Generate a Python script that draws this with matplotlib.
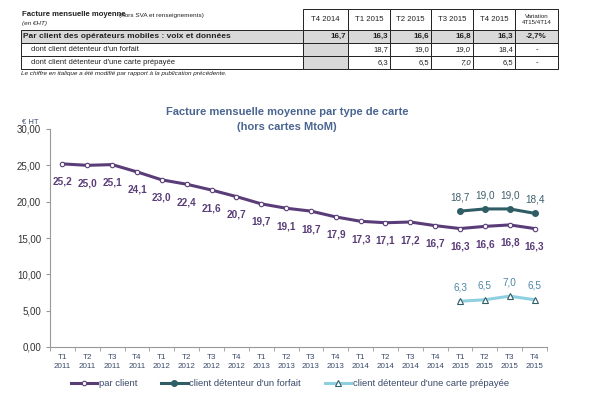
import matplotlib.pyplot as plt
from matplotlib.patches import Rectangle

plt.rcParams['font.family'] = ['Liberation Sans', 'DejaVu Sans']

W, H = 609, 395

# ---- data ----
quarters = ["T1", "T2", "T3", "T4"] * 5
years = [str(y) for y in range(2011, 2016) for _ in range(4)]
par_client = [25.2, 25.0, 25.1, 24.1, 23.0, 22.4, 21.6, 20.7, 19.7, 19.1,
              18.7, 17.9, 17.3, 17.1, 17.2, 16.7, 16.3, 16.6, 16.8, 16.3]
forfait = [18.7, 19.0, 19.0, 18.4]
prepayee = [6.3, 6.5, 7.0, 6.5]

table_cols = ["T4 2014", "T1 2015", "T2 2015", "T3 2015", "T4 2015", "Variation\n4T15/4T14"]
table_rows = ["Par client des opérateurs mobiles : voix et données",
              "dont client détenteur d'un forfait",
              "dont client détenteur d'une carte prépayée"]
table_vals = [["16,7", "16,3", "16,6", "16,8", "16,3", "-2,7%"],
              ["", "18,7", "19,0", "19,0", "18,4", "-"],
              ["", "6,3", "6,5", "7,0", "6,5", "-"]]

c_par = "#5a3d78"
c_forf = "#2f5d66"
c_prep = "#8fd0e0"
c_gray = "#d9d9d9"


def fx(x):
    return x / W


def fy(y):
    return 1 - y / H


def box(fig, x0, y0, x1, y1, fill="white"):
    fig.add_artist(Rectangle((fx(x0), fy(y1)), fx(x1) - fx(x0), fy(y0) - fy(y1),
                             transform=fig.transFigure, facecolor=fill,
                             edgecolor="#222222", linewidth=0.7))


fig = plt.figure(figsize=(W / 100, H / 100), dpi=100)

# ---- table ----
col_edges = [303, 348, 390, 431, 473, 515, 558]
row_edges = [9, 30, 43, 56, 69]
fig.text(fx(22), fy(15), "Facture mensuelle moyenne", fontsize=5.6, fontweight="bold",
         va="center", color="#222222")
fig.text(fx(119), fy(15), "(hors SVA et renseignements)", fontsize=4.6, va="center", color="#222222")
fig.text(fx(22), fy(24), "(en €HT)", fontsize=4.6, style="italic", va="center", color="#222222")
for j, col in enumerate(table_cols):
    box(fig, col_edges[j], row_edges[0], col_edges[j + 1], row_edges[1])
    fs = 4.4 if "\n" in col else 5.6
    fig.text(fx((col_edges[j] + col_edges[j + 1]) / 2), fy(19.5), col, fontsize=fs,
             ha="center", va="center", color="#222222", linespacing=1.2)
for i, row in enumerate(table_rows):
    y0, y1 = row_edges[i + 1], row_edges[i + 2]
    yc = (y0 + y1) / 2
    first = i == 0
    box(fig, 21, y0, col_edges[0], y1, fill=c_gray if first else "white")
    fig.text(fx(23 if first else 31), fy(yc), row, fontsize=6.0 if first else 5.5,
             fontweight="bold" if first else "normal", va="center", color="#222222")
    for j, v in enumerate(table_vals[i]):
        gray = first or j == 0
        box(fig, col_edges[j], y0, col_edges[j + 1], y1, fill=c_gray if gray else "white")
        last = j == len(table_vals[i]) - 1
        xt = (col_edges[j] + col_edges[j + 1]) / 2 if last else col_edges[j + 1] - 2
        fig.text(fx(xt), fy(yc), v, fontsize=5.8 if first else 5.5,
                 fontweight="bold" if first else "normal",
                 style="italic" if (j == 3 and not first) else "normal",
                 ha="center" if last else "right", va="center", color="#222222")
fig.text(fx(21), fy(73.5), "Le chiffre en italique a été modifié par rapport à la publication précédente.",
         fontsize=4.6, style="italic", va="center", color="#222222")

# ---- chart ----
ax = fig.add_axes([fx(50), fy(347), fx(547) - fx(50), fy(129) - fy(347)])
n = len(par_client)
x = list(range(n))
x15 = x[-4:]

ax.plot(x, par_client, color=c_par, lw=2.2, marker="o", ms=3.2,
        mfc="white", mec=c_par, mew=0.8, label="par client", zorder=3)
ax.plot(x15, forfait, color=c_forf, lw=2.2, marker="o", ms=4,
        mfc=c_forf, mec=c_forf, label="client détenteur d'un forfait", zorder=3)
ax.plot(x15, prepayee, color=c_prep, lw=2.2, marker="^", ms=4,
        mfc="white", mec=c_forf, mew=0.8, label="client détenteur d'une carte prépayée", zorder=3)

for xi, v in zip(x, par_client):
    ax.annotate(f"{v:.1f}".replace(".", ","), (xi, v), xytext=(0, -13),
                textcoords="offset points", ha="center", va="center",
                fontsize=7.2, fontweight="bold", color=c_par)
for xi, v in zip(x15, forfait):
    ax.annotate(f"{v:.1f}".replace(".", ","), (xi, v), xytext=(0, 10),
                textcoords="offset points", ha="center", va="center",
                fontsize=7.2, color="#3d5f6c")
for xi, v in zip(x15, prepayee):
    ax.annotate(f"{v:.1f}".replace(".", ","), (xi, v), xytext=(0, 10),
                textcoords="offset points", ha="center", va="center",
                fontsize=7.2, color="#4d86a6")

ax.set_xlim(-0.5, n - 0.5)
ax.set_ylim(0, 30)
ax.set_yticks([0, 5, 10, 15, 20, 25, 30])
ax.set_yticklabels([f"{v:.2f}".replace(".", ",") for v in [0, 5, 10, 15, 20, 25, 30]])
ax.set_xticks(x)
ax.set_xticklabels([f"{q}\n{y}" for q, y in zip(quarters, years)])
ax.set_xticks([i - 0.5 for i in range(n + 1)], minor=True)
ax.tick_params(axis="x", which="major", length=0, labelsize=5.8, colors="#3a4a6a", pad=5)
ax.tick_params(axis="x", which="minor", length=3, color="#999999")
ax.tick_params(axis="y", length=3, color="#999999", labelsize=7, labelcolor="#333333")
for lab in ax.get_xticklabels():
    lab.set_linespacing(1.5)
for s in ["top", "right"]:
    ax.spines[s].set_visible(False)
for s in ["left", "bottom"]:
    ax.spines[s].set_color("#999999")
    ax.spines[s].set_linewidth(0.8)

fig.text(fx(30), fy(122), "€ HT", fontsize=5.5, ha="center", va="center", color="#3a4a6a")
fig.text(fx(287), fy(112), "Facture mensuelle moyenne par type de carte", fontsize=8,
         fontweight="bold", ha="center", va="center", color="#4a6590")
fig.text(fx(287), fy(127), "(hors cartes MtoM)", fontsize=8,
         fontweight="bold", ha="center", va="center", color="#4a6590")

handles, labels = ax.get_legend_handles_labels()
leg = fig.legend(handles, labels, loc="center", bbox_to_anchor=(fx(290), fy(384)),
                 ncol=3, frameon=False, fontsize=6.8, handlelength=2.8, columnspacing=2.5,
                 handletextpad=0.2)
for t in leg.get_texts():
    t.set_color("#3a4a6a")

fig.savefig("out.png", dpi=100)
